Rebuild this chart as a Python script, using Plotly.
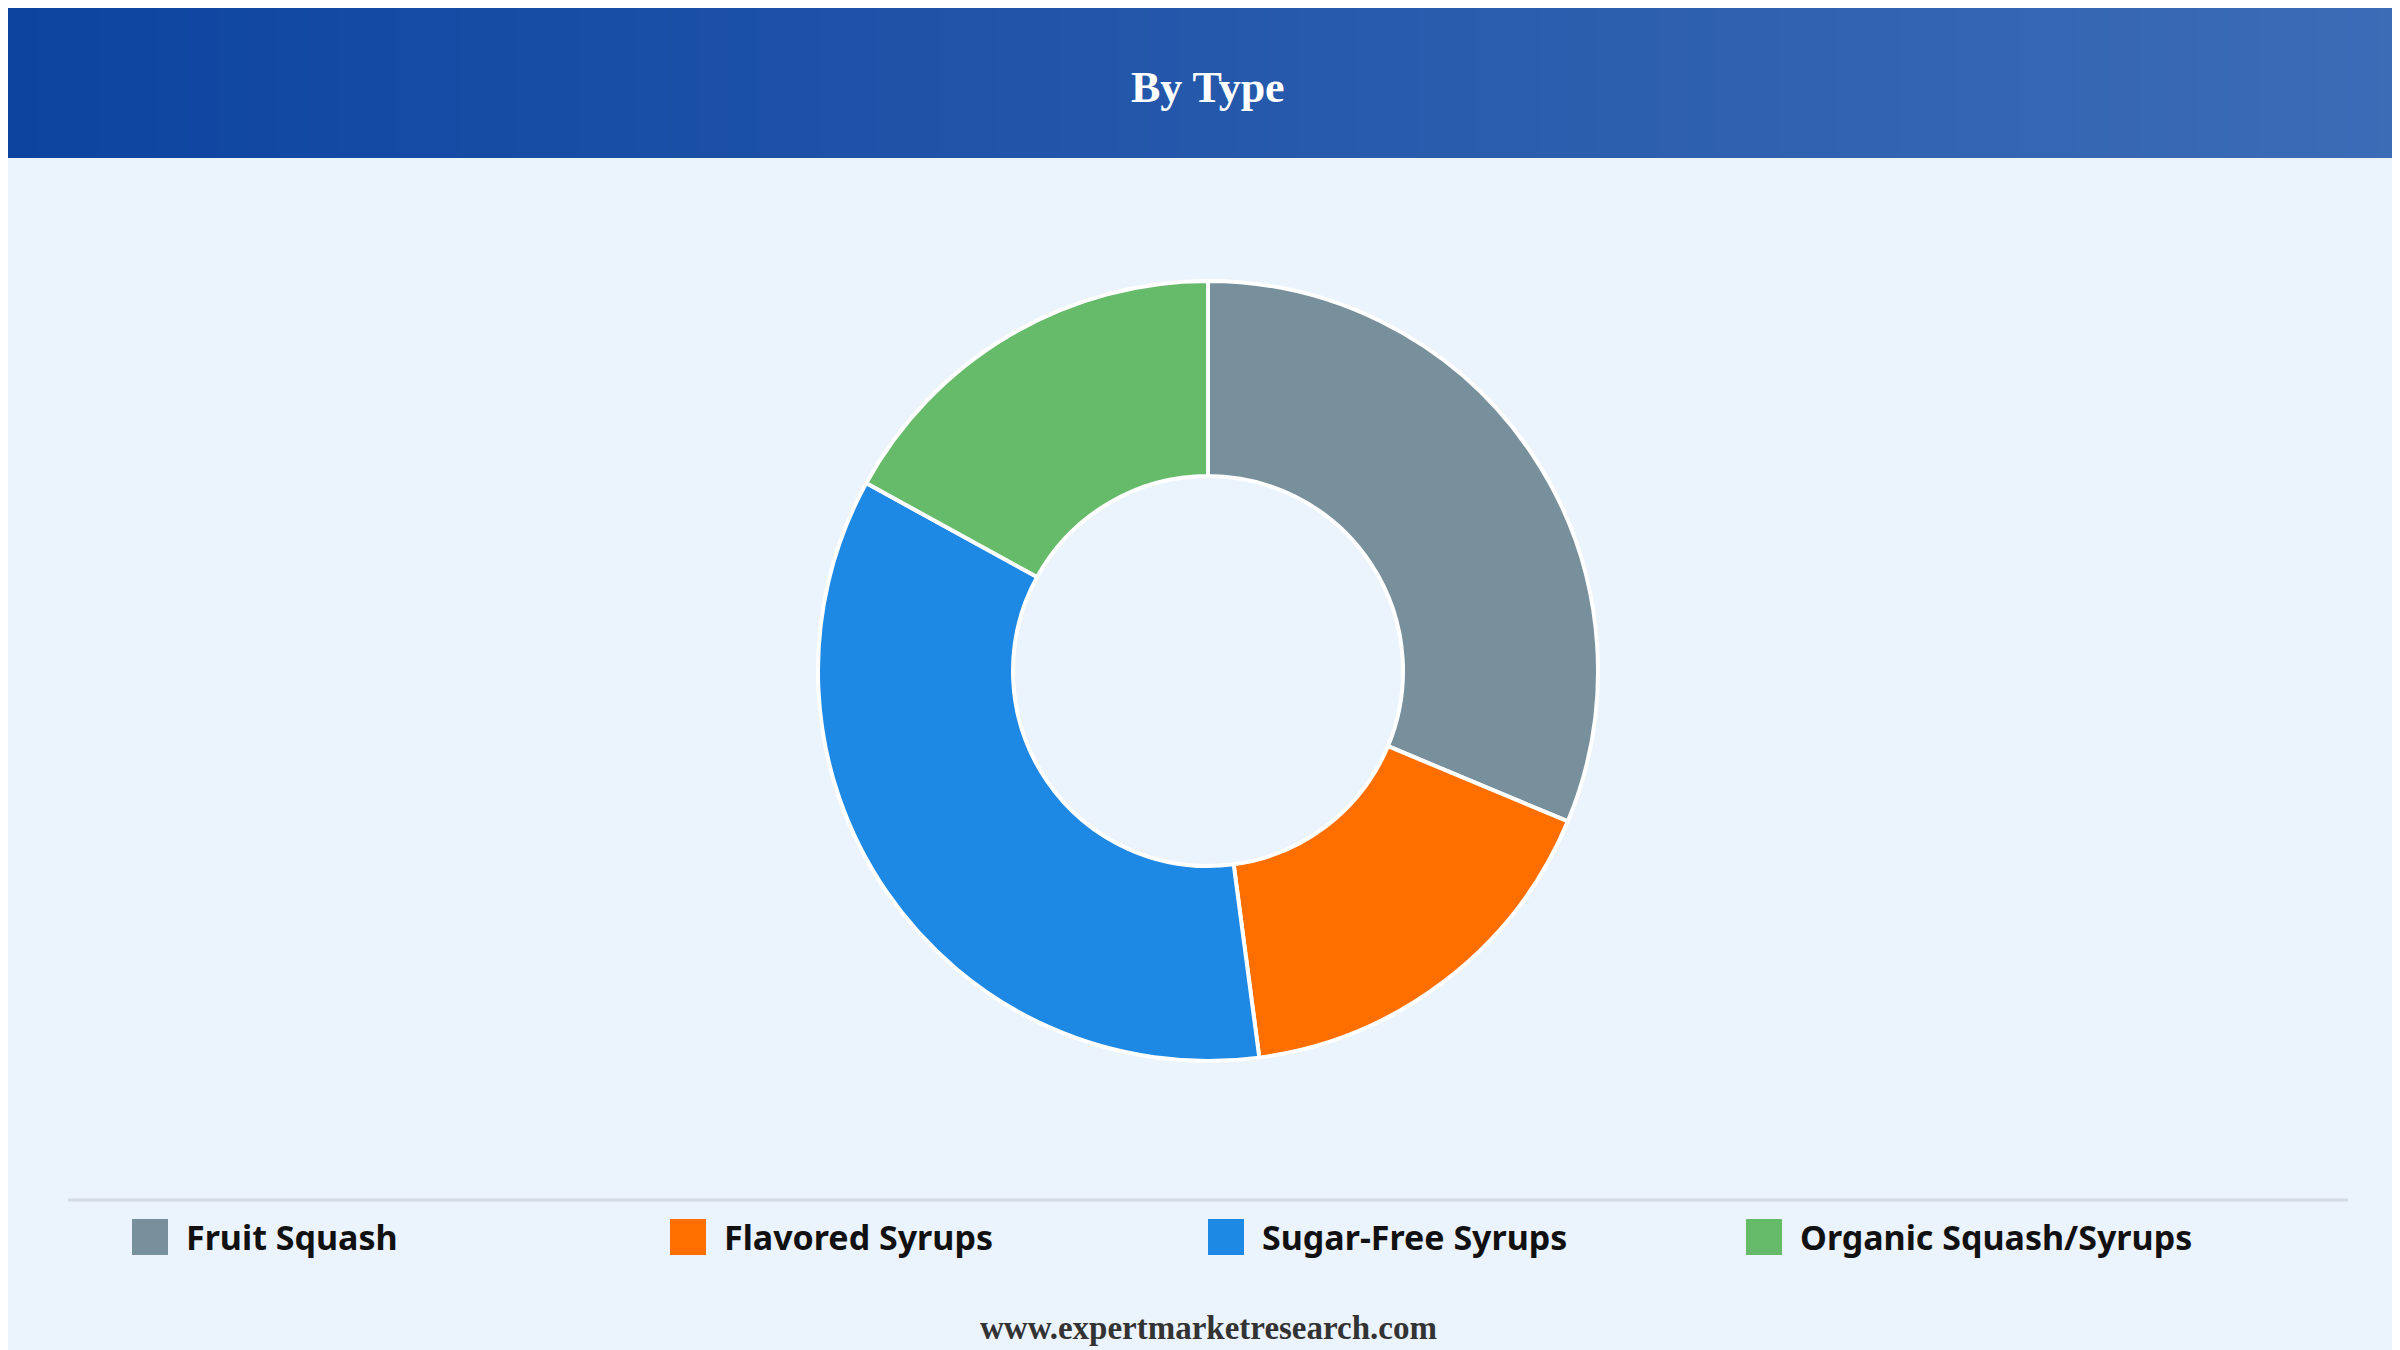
import plotly.graph_objects as go

categories = ["Fruit Squash", "Flavored Syrups", "Sugar-Free Syrups", "Organic Squash/Syrups"]
values = [31.3, 16.6, 35.1, 17.0]
colors = ["#78909C", "#FF6F00", "#1E88E5", "#66BB6A"]

W, H = 2400, 1350
fig = go.Figure(go.Pie(
    labels=categories, values=values, hole=0.5, sort=False, direction="clockwise",
    rotation=0, textinfo="none", hoverinfo="label+percent", showlegend=False,
    marker=dict(colors=colors, line=dict(color="white", width=4)),
    domain=dict(x=[0, 1], y=[1 - 1053 / H, 1 - 273 / H]),
))

shapes = []
n = 80
c0, c1 = (0x0D, 0x44, 0xA0), (0x3C, 0x6C, 0xB6)
for i in range(n):
    t = i / (n - 1)
    c = tuple(round(a + (b - a) * t) for a, b in zip(c0, c1))
    shapes.append(dict(type="rect", xref="paper", yref="paper",
                       x0=i / n, x1=(i + 1) / n + 0.001, y0=1 - 150 / H, y1=1,
                       fillcolor="rgb(%d,%d,%d)" % c, line=dict(width=0), layer="below"))
shapes.append(dict(type="line", xref="paper", yref="paper", x0=0.025, x1=0.975,
                   y0=1 - 1192 / H, y1=1 - 1192 / H, line=dict(color="#D6DCE3", width=3)))

annotations = [
    dict(text="<b>By Type</b>", x=0.5, y=1 - 80 / H, xref="paper", yref="paper",
         yanchor="middle", showarrow=False,
         font=dict(family="Liberation Serif", size=44, color="white")),
    dict(text="<b>www.expertmarketresearch.com</b>", x=0.5, y=1 - 1320 / H, xref="paper",
         yref="paper", yanchor="middle", showarrow=False,
         font=dict(family="Liberation Serif", size=33, color="#333333")),
]

ly = 1229
for i, (cat, col) in enumerate(zip(categories, colors)):
    x0 = 125 + i * 538
    shapes.append(dict(type="rect", xref="paper", yref="paper",
                       x0=x0 / W, x1=(x0 + 34) / W, y0=1 - (ly + 17) / H, y1=1 - (ly - 17) / H,
                       fillcolor=col, line=dict(color=col, width=2)))
    annotations.append(dict(text="<b>%s</b>" % cat, x=(x0 + 51) / W, y=1 - ly / H,
                            xref="paper", yref="paper", xanchor="left", yanchor="middle",
                            showarrow=False,
                            font=dict(family="Noto Sans", size=34, color="#111111")))

fig.update_layout(
    width=W, height=H, margin=dict(l=0, r=0, t=0, b=0),
    paper_bgcolor="#EBF3FC", plot_bgcolor="#EBF3FC", shapes=shapes,
    annotations=annotations, showlegend=False,
)
fig.write_html("out.html")
